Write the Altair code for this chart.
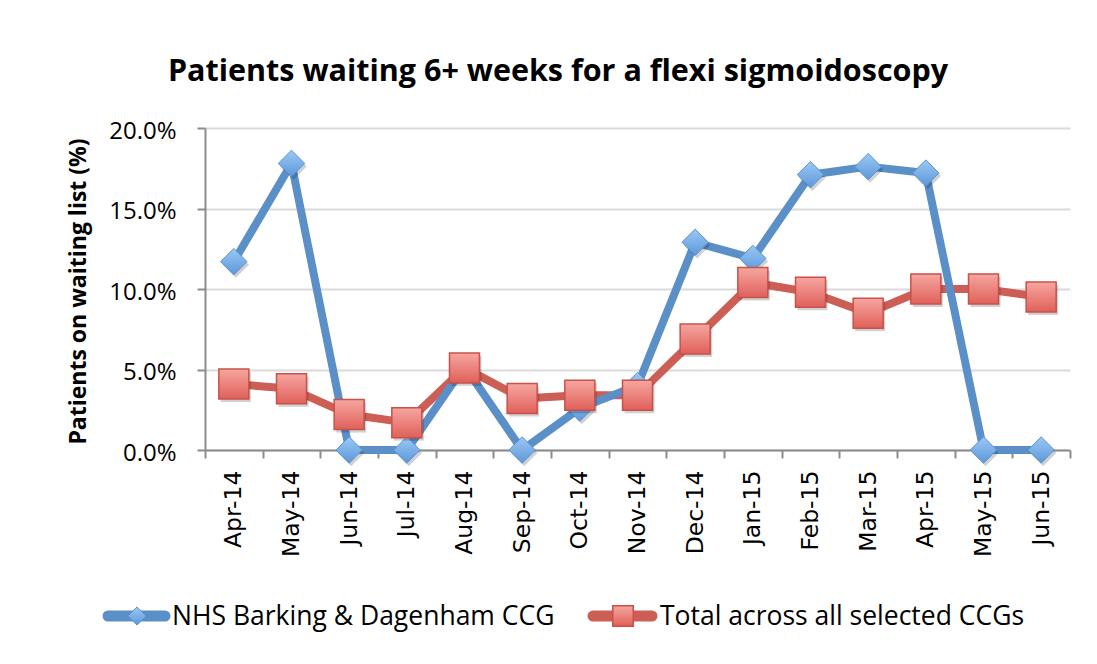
import altair as alt
import pandas as pd

# ---------------- data ----------------
months = ["Apr-14", "May-14", "Jun-14", "Jul-14", "Aug-14", "Sep-14", "Oct-14",
          "Nov-14", "Dec-14", "Jan-15", "Feb-15", "Mar-15", "Apr-15", "May-15", "Jun-15"]
series_names = ["NHS Barking & Dagenham CCG", "Total across all selected CCGs"]
barking_pct = [11.7, 17.8, 0.0, 0.0, 5.2, 0.0, 2.6, 4.0, 12.9, 11.9, 17.1, 17.6, 17.2, 0.0, 0.0]
total_pct = [4.1, 3.8, 2.2, 1.7, 5.1, 3.2, 3.4, 3.4, 6.9, 10.4, 9.8, 8.5, 10.0, 10.0, 9.5]
y_ticks = [0.0, 0.05, 0.10, 0.15, 0.20]

title_text = "Patients waiting 6+ weeks for a flexi sigmoidoscopy"
y_title = "Patients on waiting list (%)"

rows = []
for name, vals in zip(series_names, [barking_pct, total_pct]):
    for m, v in zip(months, vals):
        rows.append({"month": m, "series": name, "pct": v / 100.0})
df = pd.DataFrame(rows)

BLUE_LINE = "#5A8FC8"
RED_LINE = "#CC5E55"
blue_fill = alt.Gradient(gradient="linear", x1=0, x2=0, y1=0, y2=1,
                         stops=[alt.GradientStop(color="#9CC8F4", offset=0),
                                alt.GradientStop(color="#5C98DA", offset=1)])
red_fill = alt.Gradient(gradient="linear", x1=0, x2=0, y1=0, y2=1,
                        stops=[alt.GradientStop(color="#F6A6A0", offset=0),
                               alt.GradientStop(color="#E0605A", offset=1)])

x_enc = alt.X(
    "month:N", sort=months,
    scale=alt.Scale(type="band", paddingInner=0, paddingOuter=0),
    axis=alt.Axis(title=None, labelAngle=270, tickBand="extent", grid=False,
                  labelFont="DejaVu Sans", labelFontSize=23.5, labelColor="black",
                  labelPadding=12, tickSize=8),
)
y_enc = alt.Y(
    "pct:Q",
    scale=alt.Scale(domain=[0, 0.2], nice=False, zero=True),
    axis=alt.Axis(format=".1%", values=y_ticks, grid=True,
                  title=y_title, titleFont="Open Sans", titleFontSize=23,
                  titleFontWeight="bold", titleColor="black",
                  titleX=-127, titleY=163, titleAngle=270,
                  titleAlign="center", titleBaseline="middle",
                  labelFont="Open Sans", labelFontSize=24, labelColor="black",
                  labelPadding=21, tickSize=8, labelOffset=3),
)

base = alt.Chart(df).encode(x=x_enc, y=y_enc)

red_line = base.transform_filter(alt.datum.series == series_names[1]).mark_line(
    color=RED_LINE, strokeWidth=8, strokeJoin="round")
blue_line = base.transform_filter(alt.datum.series == series_names[0]).mark_line(
    color=BLUE_LINE, strokeWidth=8, strokeJoin="round")

blue_shadow = base.transform_filter(alt.datum.series == series_names[0]).mark_point(
    shape="diamond", size=700, filled=True, color="#000000", opacity=0.18,
    xOffset=2, yOffset=3)
blue_pts = base.transform_filter(alt.datum.series == series_names[0]).mark_point(
    shape="diamond", size=700, filled=True, fill=blue_fill, stroke="#5B93D3",
    strokeWidth=1, opacity=1)
red_shadow = base.transform_filter(alt.datum.series == series_names[1]).mark_point(
    shape="square", size=900, filled=True, color="#000000", opacity=0.18,
    xOffset=2, yOffset=3)
red_pts = base.transform_filter(alt.datum.series == series_names[1]).mark_point(
    shape="square", size=900, filled=True, fill=red_fill, stroke="#C8514A",
    strokeWidth=1.5, opacity=1)

# ---------------- title (as text, centred on the chart area) ----------------
title_layer = alt.Chart(alt.Data(values=[{"t": title_text}])).mark_text(
    align="center", baseline="alphabetic", font="Open Sans", fontSize=30.5,
    fontWeight="bold", color="black").encode(
    x=alt.value(353), y=alt.value(-47), text="t:N")

# ---------------- manual legend ----------------
leg_y = 488
leg1 = alt.Data(values=[{"label": series_names[0]}])
leg2 = alt.Data(values=[{"label": series_names[1]}])

l1_line = alt.Chart(leg1).mark_rule(color=BLUE_LINE, strokeWidth=11, strokeCap="round").encode(
    x=alt.value(-97), x2=alt.value(-40), y=alt.value(leg_y), y2=alt.value(leg_y))
l1_sym = alt.Chart(leg1).mark_point(shape="diamond", size=330, filled=True, fill=blue_fill,
                                     stroke="#5B93D3", strokeWidth=1, opacity=1).encode(
    x=alt.value(-68), y=alt.value(leg_y))
l1_txt = alt.Chart(leg1).mark_text(align="left", baseline="middle", font="Open Sans",
                                    fontSize=26.5, color="black").encode(
    x=alt.value(-33), y=alt.value(leg_y + 1), text="label:N")

l2_line = alt.Chart(leg2).mark_rule(color=RED_LINE, strokeWidth=11, strokeCap="round").encode(
    x=alt.value(388), x2=alt.value(447), y=alt.value(leg_y), y2=alt.value(leg_y))
l2_sym = alt.Chart(leg2).mark_point(shape="square", size=420, filled=True, fill=red_fill,
                                     stroke="#C8514A", strokeWidth=1.5, opacity=1).encode(
    x=alt.value(418), y=alt.value(leg_y))
l2_txt = alt.Chart(leg2).mark_text(align="left", baseline="middle", font="Open Sans",
                                    fontSize=26.5, color="black").encode(
    x=alt.value(455), y=alt.value(leg_y + 1), text="label:N")

chart = alt.layer(
    title_layer, red_line, blue_line, blue_shadow, blue_pts,
    red_shadow, red_pts, l1_line, l1_sym, l1_txt, l2_line, l2_sym, l2_txt,
).properties(
    width=865, height=322,
    autosize=alt.AutoSizeParams(type="none"),
    padding={"left": 197, "top": 120, "right": 19, "bottom": 206},
).configure_view(stroke=None).configure_axis(
    domainColor="#8c8c8c", domainWidth=2, tickColor="#8c8c8c", tickWidth=2,
    gridColor="#dadada", gridWidth=2,
)

chart.save("out.html", embed_options={"renderer": "svg", "actions": False})
